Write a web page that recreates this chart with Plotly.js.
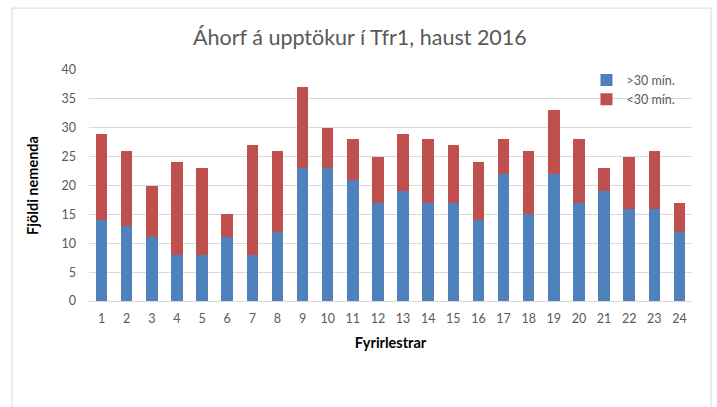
<!DOCTYPE html>
<html>
<head>
<meta charset="utf-8">
<script src="https://cdn.plot.ly/plotly-3.0.1.min.js"></script>
<style>html,body{margin:0;padding:0;background:#fff;}#chart{width:717px;height:407px;}</style>
</head>
<body>
<div id="chart"></div>
<script>
const categories = ['1','2','3','4','5','6','7','8','9','10','11','12','13','14','15','16','17','18','19','20','21','22','23','24'];
const over30 = [14,13,11,8,8,11,8,12,23,23,21,17,19,17,17,14,22,15,22,17,19,16,16,12];
const under30 = [15,13,9,16,15,4,19,14,14,7,7,8,10,11,10,10,6,11,11,11,4,9,10,5];
const seriesNames = ['>30 mín.', '<30 mín.'];
const yTicks = [0,5,10,15,20,25,30,35,40];

const fontFam = 'Lato, "Open Sans", sans-serif';
const gray = '#595959';

const data = [
  {type:'bar', x:categories, y:over30, name:seriesNames[0], marker:{color:'#4f81bd'}},
  {type:'bar', x:categories, y:under30, name:seriesNames[1], marker:{color:'#c0504d'}}
];

const layout = {
  width:717, height:407,
  margin:{l:89, r:25, t:70, b:106},
  paper_bgcolor:'#fff', plot_bgcolor:'#fff',
  barmode:'stack', bargap:0.54,
  font:{family:fontFam, color:gray, size:12},
  title:{text:'Áhorf á upptökur í Tfr1, haust 2016', x:0.502, xanchor:'center', y:0.907, yanchor:'middle',
         font:{family:fontFam, size:21.5, color:gray}},
  xaxis:{type:'category', showgrid:false, zeroline:false, showline:true, linecolor:'#d9d9d9', linewidth:1,
         ticks:'', tickfont:{size:12.5, color:gray}, ticklabelstandoff:6,
         title:{text:'Fyrirlestrar', font:{family:fontFam, size:14.5, color:'#000', weight:'bold'}, standoff:12}},
  yaxis:{range:[0,40], tickvals:yTicks, showgrid:true, gridcolor:'#d9d9d9', gridwidth:1, zeroline:false,
         showline:false, ticks:'', tickfont:{size:12.5, color:gray}, ticklabelstandoff:12,
         title:{text:'Fjöldi nemenda', font:{family:fontFam, size:14.5, color:'#000', weight:'bold'}, standoff:19}},
  legend:{x:0.825, xanchor:'left', y:1.02, yanchor:'top', traceorder:'normal', bgcolor:'rgba(0,0,0,0)',
          font:{size:12.5, color:gray}, itemwidth:30},
  shapes:[{type:'rect', xref:'paper', yref:'paper', x0:-0.1277, x1:1.0315, y0:-0.48, y1:1.268,
           line:{color:'#d9d9d9', width:1}, fillcolor:'rgba(0,0,0,0)', layer:'below'}],
  showlegend:true
};

Plotly.newPlot('chart', data, layout, {displayModeBar:false, staticPlot:true});
</script>
</body>
</html>
